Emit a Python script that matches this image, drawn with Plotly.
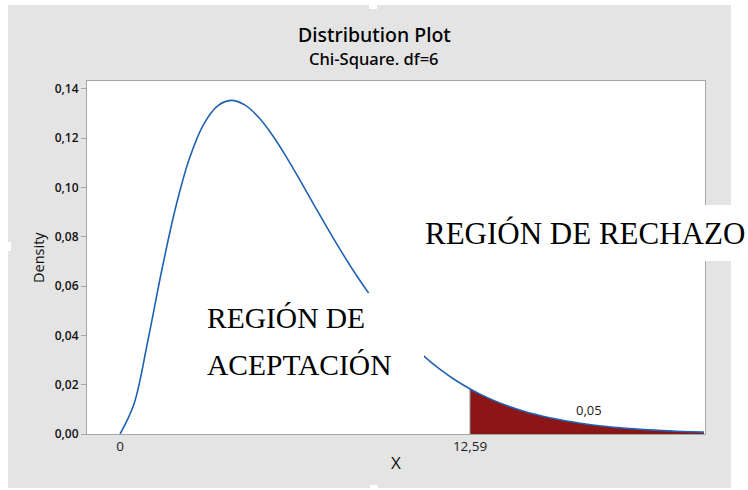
import plotly.graph_objects as go

# ---------------- data ----------------
x_values = [0, 0.5, 1, 1.5, 2, 2.5, 3, 3.5, 4, 4.5, 5, 5.5, 6, 6.5, 7, 7.5, 8, 8.5,
            9, 9.5, 10, 10.5, 11, 11.5, 12, 12.5, 12.59, 13, 13.5, 14, 14.5, 15,
            15.5, 16, 16.5, 17, 17.5, 18, 18.5, 19, 19.5, 20, 20.5, 21]
density = [0.0, 0.01217, 0.03791, 0.06643, 0.09197, 0.11192, 0.12551, 0.13304,
           0.13534, 0.13340, 0.12826, 0.12086, 0.11202, 0.10239, 0.09248, 0.08268,
           0.07326, 0.06441, 0.05624, 0.04880, 0.04211, 0.03616, 0.03091, 0.02631,
           0.02231, 0.01885, 0.01828, 0.01588, 0.01334, 0.01117, 0.00933, 0.00778,
           0.00647, 0.00537, 0.00445, 0.00368, 0.00303, 0.00250, 0.00206, 0.00169,
           0.00139, 0.00114, 0.00093, 0.00076]
critical_value = 12.59
tail_area_label = "0,05"
y_tick_values = [0.00, 0.02, 0.04, 0.06, 0.08, 0.10, 0.12, 0.14]
x_tick_values = [0, 12.59]
x_tick_labels = ["0", "12,59"]

# ---------------- layout helpers ----------------
W, H = 748, 490
L, R, T, B = 87, 705, 81, 434


def px(x):
    return (x - L) / (R - L)


def py(y):
    return (B - y) / (B - T)


BG = "#e4e4e4"
AXIS = "#a6a6a6"
BLUE = "#1f62b3"
RED = "#8c1515"
UI_FONT = "Open Sans"
TITLE_FONT = "Noto Sans"
SERIF = "Liberation Serif"

tail_x = [x for x in x_values if x >= critical_value]
tail_y = [d for x, d in zip(x_values, density) if x >= critical_value]
crit_density = tail_y[0]

fig = go.Figure()

# shaded rejection region
fig.add_trace(go.Scatter(
    x=tail_x, y=tail_y, mode="lines", line=dict(width=0, color=RED, shape="spline"),
    fill="tozeroy", fillcolor=RED, hoverinfo="skip"))
# vertical line at the critical value
fig.add_trace(go.Scatter(
    x=[critical_value, critical_value], y=[0, crit_density], mode="lines",
    line=dict(color="#7a7a7a", width=1), hoverinfo="skip"))
# density curve
fig.add_trace(go.Scatter(
    x=x_values, y=density, mode="lines",
    line=dict(color=BLUE, width=1.6, shape="spline")))

shapes = []
# white borders around the grey panel
for (x0, y0, x1, y1) in [(0, 0, 8, H), (0, 0, W, 5), (731, 0, W, H), (0, 488, W, H),
                         (0, 242, 11, 251), (369, 0, 377, 9), (370, 485, 378, H)]:
    shapes.append(dict(type="rect", xref="paper", yref="paper",
                       x0=px(x0), x1=px(x1), y0=py(y1), y1=py(y0),
                       fillcolor="white", line=dict(width=0), layer="above"))
# white text boxes
for (x0, y0, x1, y1) in [(200, 293, 424, 400), (415, 205, W, 261)]:
    shapes.append(dict(type="rect", xref="paper", yref="paper",
                       x0=px(x0), x1=px(x1), y0=py(y1), y1=py(y0),
                       fillcolor="white", line=dict(width=0), layer="above"))

annotations = [
    dict(text="Distribution Plot", x=px(374), y=py(35),
         font=dict(size=19.5, color="#000", family=TITLE_FONT, weight=500)),
    dict(text="Chi-Square. df=6", x=px(374), y=py(58),
         font=dict(size=16.5, color="#000", family=TITLE_FONT, weight=500)),
    dict(text="Density", x=px(38), y=py(258), textangle=-90,
         font=dict(size=14.5, color="#111", family=UI_FONT)),
    dict(text="X", x=px(396), y=py(462), font=dict(size=17, color="#111", family=UI_FONT)),
    dict(text=tail_area_label, x=px(589), y=py(410), font=dict(size=13, color="#222", family=UI_FONT)),
    dict(text="REGIÓN DE RECHAZO", x=px(423), y=py(233), xanchor="left",
         font=dict(size=31, color="black", family=SERIF)),
    dict(text="REGIÓN DE", x=px(205), y=py(318), xanchor="left",
         font=dict(size=29.5, color="black", family=SERIF)),
    dict(text="ACEPTACIÓN", x=px(205), y=py(365), xanchor="left",
         font=dict(size=29.5, color="black", family=SERIF)),
]
for a in annotations:
    a.setdefault("xanchor", "center")
    a.update(xref="paper", yref="paper", yanchor="middle", showarrow=False)

fig.update_layout(
    width=W, height=H, autosize=False,
    margin=dict(l=L, r=W - R, t=T, b=H - B, pad=0),
    paper_bgcolor=BG, plot_bgcolor="white",
    showlegend=False, separators=",.",
    shapes=shapes, annotations=annotations,
    xaxis=dict(range=[-1.19, 21.04], showgrid=False, zeroline=False,
               showline=True, mirror=True, linecolor=AXIS, linewidth=1,
               tickmode="array", tickvals=x_tick_values, ticktext=x_tick_labels,
               ticks="", tickfont=dict(size=13.5, color="#222", family=UI_FONT)),
    yaxis=dict(range=[0, 0.1432], showgrid=False, zeroline=False,
               showline=True, mirror=True, linecolor=AXIS, linewidth=1,
               tickmode="array", tickvals=y_tick_values, tickformat=".2f",
               ticks="outside", ticklen=5, tickcolor=AXIS,
               tickfont=dict(size=12, color="#111", family=UI_FONT, weight=600)),
)

fig.write_html("out.html", config={"displayModeBar": False},
               post_script="document.body.style.margin='0';document.body.style.padding='0';")
